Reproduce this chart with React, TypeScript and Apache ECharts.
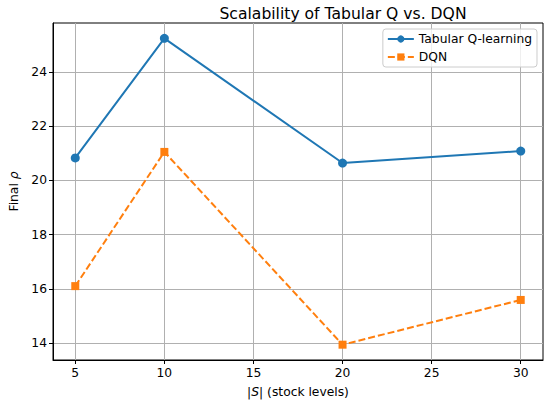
import { useEffect, useRef } from 'react'
import * as echarts from 'echarts'

const stateSizes = [5, 10, 20, 30]
const tabularRho = [20.83, 25.24, 20.64, 21.08]
const dqnRho = [16.1, 21.05, 13.94, 15.59]
const xTicks = [5, 10, 15, 20, 25, 30]
const yTicks = [14, 16, 18, 20, 22, 24]

const font = 'DejaVu Sans'
const labelSize = 12.3

export default function App() {
  const chartRef = useRef<HTMLDivElement>(null)

  useEffect(() => {
    if (!chartRef.current) return
    const chart = echarts.init(chartRef.current, undefined, { renderer: 'svg' })

    // matplotlib default margins: 5% of the data range on each side
    const xSpan = 30 - 5
    const yMin = Math.min(...tabularRho, ...dqnRho)
    const yMax = Math.max(...tabularRho, ...dqnRho)
    const ySpan = yMax - yMin

    const axisCommon = {
      axisLine: { show: true, onZero: false, lineStyle: { color: '#000', width: 1 } },
      axisTick: { show: true, length: 4, lineStyle: { color: '#000', width: 1 } },
      splitLine: { show: true, lineStyle: { color: '#b0b0b0', width: 1 } },
    }
    const nameRich = {
      t: { fontFamily: font, fontSize: labelSize, color: '#000' },
      i: { fontFamily: font, fontSize: labelSize, color: '#000', fontStyle: 'italic' },
    }

    chart.setOption({
      animation: false,
      textStyle: { fontFamily: font },
      title: {
        text: 'Scalability of Tabular Q vs. DQN',
        left: 338,
        top: 1,
        textAlign: 'center',
        textStyle: { fontFamily: font, fontSize: 15.6, fontWeight: 'normal', color: '#000' },
      },
      grid: {
        left: 48,
        top: 23,
        right: 7,
        bottom: 44,
        show: true,
        borderColor: '#000',
        borderWidth: 1,
        backgroundColor: 'transparent',
      },
      legend: {
        orient: 'vertical',
        right: 13,
        top: 29,
        itemWidth: 26,
        itemHeight: 9,
        itemGap: 6,
        padding: [4, 5, 4, 4],
        backgroundColor: 'rgba(255,255,255,0.8)',
        borderColor: '#cccccc',
        borderWidth: 1,
        borderRadius: 3,
        textStyle: { fontFamily: font, fontSize: labelSize, color: '#000' },
        data: ['Tabular Q-learning', 'DQN'],
      },
      xAxis: {
        type: 'value',
        min: 5 - xSpan * 0.05,
        max: 30 + xSpan * 0.05,
        name: '{t||}{i|S}{t|| (stock levels)}',
        nameLocation: 'middle',
        nameGap: 26,
        nameTextStyle: { rich: nameRich },
        ...axisCommon,
        axisTick: { ...axisCommon.axisTick, customValues: xTicks },
        axisLabel: { customValues: xTicks, color: '#000', fontSize: labelSize, fontFamily: font, margin: 7 },
      },
      yAxis: {
        type: 'value',
        min: yMin - ySpan * 0.05,
        max: yMax + ySpan * 0.05,
        name: '{t|Final }{i|ρ}',
        nameLocation: 'middle',
        nameGap: 33,
        nameRotate: 90,
        nameTextStyle: { rich: nameRich },
        ...axisCommon,
        axisTick: { ...axisCommon.axisTick, customValues: yTicks },
        axisLabel: { customValues: yTicks, color: '#000', fontSize: labelSize, fontFamily: font, margin: 6 },
      },
      series: [
        {
          name: 'Tabular Q-learning',
          type: 'line',
          data: stateSizes.map((s, i) => [s, tabularRho[i]]),
          symbol: 'circle',
          symbolSize: 9,
          color: '#1f77b4',
          lineStyle: { color: '#1f77b4', width: 2 },
          itemStyle: { color: '#1f77b4' },
          z: 3,
        },
        {
          name: 'DQN',
          type: 'line',
          data: stateSizes.map((s, i) => [s, dqnRho[i]]),
          symbol: 'rect',
          symbolSize: 8,
          color: '#ff7f0e',
          lineStyle: { color: '#ff7f0e', width: 2, type: [7, 3] },
          itemStyle: { color: '#ff7f0e' },
          z: 2,
        },
      ],
    })

    return () => {
      chart.dispose()
    }
  }, [])

  return (
    <div
      ref={chartRef}
      style={{ position: 'fixed', left: 0, top: 0, width: '550px', height: '404px', background: '#fff' }}
    />
  )
}
